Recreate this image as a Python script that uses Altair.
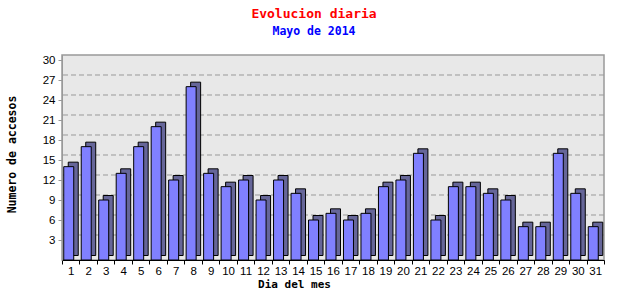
import altair as alt
import pandas as pd

dias = list(range(1, 32))
accesos = [14, 17, 9, 13, 17, 20, 12, 26, 13, 11, 12, 9, 12, 10, 6, 7,
           6, 7, 11, 12, 16, 6, 11, 11, 10, 9, 5, 5, 16, 10, 5]
y_ticks = [3, 6, 9, 12, 15, 18, 21, 24, 27, 30]
grid_vals = [3, 6, 9, 12, 15, 18, 21, 24, 27]

df = pd.DataFrame({"dia": dias, "accesos": accesos})
grid_df = pd.DataFrame({"accesos": grid_vals})

yscale = alt.Scale(domain=[0, 30.75], nice=False, zero=True)
xscale = alt.Scale(paddingInner=0, paddingOuter=0)

x_enc = alt.X(
    "dia:O", scale=xscale,
    axis=alt.Axis(
        title="Dia del mes", labelAngle=0, tickBand="extent",
        domainColor="black", tickColor="black", tickSize=4,
        labelFont="Liberation Sans", labelFontSize=11.5, labelColor="black",
        labelPadding=1,
        titleFont="DejaVu Sans Mono", titleFontSize=11, titleFontWeight="bold",
        titleColor="black", titleX=232, titleY=24, titleBaseline="middle",
        titleAlign="center",
    ),
)
y_enc = alt.Y(
    "accesos:Q", scale=yscale,
    axis=alt.Axis(
        values=y_ticks, title="Numero de accesos", grid=False,
        domainColor="#999999", tickColor="#999999", tickSize=4,
        labelFont="Liberation Sans", labelFontSize=11.5, labelColor="black",
        labelPadding=3,
        titleFont="DejaVu Sans Mono", titleFontSize=11.5, titleFontWeight="bold",
        titleColor="black", titleX=-50, titleY=99, titleBaseline="middle",
        titleAlign="center",
    ),
)

floor = alt.Chart(df).mark_rule(color="#999999", strokeWidth=5).encode(
    y=alt.value(257.5)
)

grid = alt.Chart(grid_df).mark_rule(
    color="#999999", strokeDash=[5, 3], strokeWidth=1, yOffset=-5
).encode(y=y_enc)

side = alt.Chart(df).mark_bar(
    color="#666699", stroke="black", strokeWidth=1, size=10,
    xOffset=2.5, yOffset=-4.5
).encode(x=x_enc, y=y_enc)

front = alt.Chart(df).mark_bar(
    color="#8080ff", stroke="black", strokeWidth=1, size=10, xOffset=-2
).encode(x=x_enc, y=y_enc)

chart = alt.layer(floor, grid, side, front).properties(
    width=542, height=205,
    autosize=alt.AutoSizeParams(type="none"),
    padding={"left": 62, "top": 55, "right": 36, "bottom": 40},
    title=alt.Title(
        "Evolucion diaria", subtitle="Mayo de 2014",
        color="red", subtitleColor="blue",
        font="DejaVu Sans Mono", fontSize=13, fontWeight="bold",
        subtitleFont="DejaVu Sans Mono", subtitleFontSize=11.5,
        subtitleFontWeight="bold", subtitlePadding=5,
        anchor="middle", dx=-19, offset=17,
    ),
).configure_view(fill="#e8e8e8", stroke="#999999", strokeWidth=1.5)

chart.save("out.html", embed_options={"renderer": "svg", "actions": False})
